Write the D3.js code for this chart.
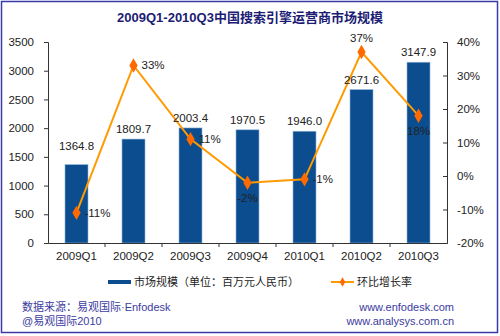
<!DOCTYPE html>
<html><head><meta charset="utf-8">
<script src="https://cdn.jsdelivr.net/npm/d3@7"></script>
<style>body{margin:0;background:#fff}svg{display:block;font-family:Arial,"Liberation Sans","Noto Sans CJK SC",sans-serif}</style>
</head><body><svg id="c" width="500" height="336"></svg>
<script>
const categories = ["2009Q1","2009Q2","2009Q3","2009Q4","2010Q1","2010Q2","2010Q3"];
const marketSize = [1364.8,1809.7,2003.4,1970.5,1946.0,2671.6,3147.9];
const growthRate = [-11,33,11,-2,-1,37,18];
const growthLabelPos = ["right","right","right","below","right","above","below"];
const leftTicks = [0,500,1000,1500,2000,2500,3000,3500];
const rightTicks = [-20,-10,0,10,20,30,40];
const seriesNames = ["市场规模（单位：百万元人民币）","环比增长率"];

const svg = d3.select("#c");
const m = {l:48, r:447, t:42, b:243};
const x = d3.scaleBand().domain(categories).range([m.l,m.r]).paddingInner(0).paddingOuter(0);
const yL = d3.scaleLinear().domain([0,3500]).range([m.b,m.t]);
const yR = d3.scaleLinear().domain([-20,40]).range([m.b,m.t]);
const bw = 23;

// border
svg.append("rect").attr("x",1.5).attr("y",1.5).attr("width",496).attr("height",331)
  .attr("fill","none").attr("stroke","#3a3aa8").attr("stroke-width",1.5);

// title
svg.append("text").attr("x",250).attr("y",22).attr("text-anchor","middle")
  .attr("font-size",13).attr("font-weight","bold").attr("fill","#1c1c74")
  .text("2009Q1-2010Q3中国搜索引擎运营商市场规模");

// bars
svg.selectAll("rect.bar").data(marketSize).enter().append("rect").attr("class","bar")
  .attr("x",(d,i)=>x(categories[i])+x.bandwidth()/2-bw/2)
  .attr("y",d=>yL(d)).attr("width",bw).attr("height",d=>yL(0)-yL(d))
  .attr("fill","#0b4d8e").attr("stroke","#8fb3d9").attr("stroke-width",0.6);

// axes
const axL = d3.axisLeft(yL).tickValues(leftTicks).tickFormat(d3.format("d")).tickSize(4).tickPadding(10);
const gL = svg.append("g").attr("transform",`translate(${m.l},0)`).call(axL);
const axR = d3.axisRight(yR).tickValues(rightTicks).tickFormat(d=>d+"%").tickSize(-4).tickPadding(10);
const gR = svg.append("g").attr("transform",`translate(${m.r},0)`).call(axR);
const axB = d3.axisBottom(x).tickSize(0).tickPadding(9);
const gB = svg.append("g").attr("transform",`translate(0,${m.b})`).call(axB);
[gL,gR,gB].forEach(g=>{
  g.select(".domain").attr("stroke","#333").attr("stroke-width",1);
  g.selectAll(".tick line").attr("stroke","#333");
  g.selectAll("text").attr("font-size",11.5).attr("fill","#222").attr("font-family",null);
});
gR.selectAll(".tick text").attr("x",10);
// category separator ticks
svg.selectAll("line.sep").data(categories.slice(1)).enter().append("line").attr("class","sep")
  .attr("x1",d=>x(d)).attr("x2",d=>x(d)).attr("y1",m.b).attr("y2",m.b+4).attr("stroke","#333");

// line
const cx = i=>x(categories[i])+x.bandwidth()/2;
const line = d3.line().x((d,i)=>cx(i)).y(d=>yR(d));
svg.append("path").datum(growthRate).attr("d",line).attr("fill","none")
  .attr("stroke","#ff9a00").attr("stroke-width",2);
const diamond = d3.symbol().type(d3.symbolDiamond).size(60);
svg.selectAll("path.mk").data(growthRate).enter().append("path").attr("class","mk")
  .attr("transform",(d,i)=>`translate(${cx(i)},${yR(d)})`).attr("d",diamond)
  .attr("fill","#ff6a00");

// bar labels
svg.selectAll("text.bl").data(marketSize).enter().append("text").attr("class","bl")
  .attr("x",(d,i)=>x(categories[i])+x.bandwidth()/2)
  .attr("y",(d,i)=>yL(d)-(i===0?15:6))
  .attr("text-anchor","middle").attr("font-size",11.5).attr("fill","#222")
  .text(d=>d.toFixed(1));

svg.selectAll("text.gl").data(growthRate).enter().append("text").attr("class","gl")
  .attr("x",(d,i)=>growthLabelPos[i]==="right"?cx(i)+8:cx(i))
  .attr("y",(d,i)=>growthLabelPos[i]==="right"?yR(d)+4:growthLabelPos[i]==="above"?yR(d)-10:yR(d)+19)
  .attr("text-anchor",(d,i)=>growthLabelPos[i]==="right"?"start":"middle")
  .attr("font-size",11.5).attr("fill","#222").text(d=>d+"%");

// legend
const lg = svg.append("g");
lg.append("rect").attr("x",108).attr("y",280).attr("width",23).attr("height",4).attr("fill","#0b4d8e");
lg.append("text").attr("x",134).attr("y",286).attr("font-size",11).attr("fill","#222").text(seriesNames[0]);
lg.append("line").attr("x1",331).attr("x2",354).attr("y1",282).attr("y2",282).attr("stroke","#ff9a00").attr("stroke-width",2);
lg.append("path").attr("transform","translate(342.5,282)").attr("d",d3.symbol().type(d3.symbolDiamond).size(25)).attr("fill","#ff6a00");
lg.append("text").attr("x",357).attr("y",286).attr("font-size",11).attr("fill","#222").text(seriesNames[1]);

// footer
const fc = "#3b3b9e";
svg.append("text").attr("x",22).attr("y",311).attr("font-size",11).attr("fill",fc).text("数据来源：易观国际·Enfodesk");
svg.append("text").attr("x",22).attr("y",325).attr("font-size",11).attr("fill",fc).text("@易观国际2010");
svg.append("text").attr("x",454).attr("y",311).attr("text-anchor","end").attr("font-size",11).attr("fill",fc).text("www.enfodesk.com");
svg.append("text").attr("x",454).attr("y",325).attr("text-anchor","end").attr("font-size",11).attr("fill",fc).text("www.analysys.com.cn");
</script></body></html>
